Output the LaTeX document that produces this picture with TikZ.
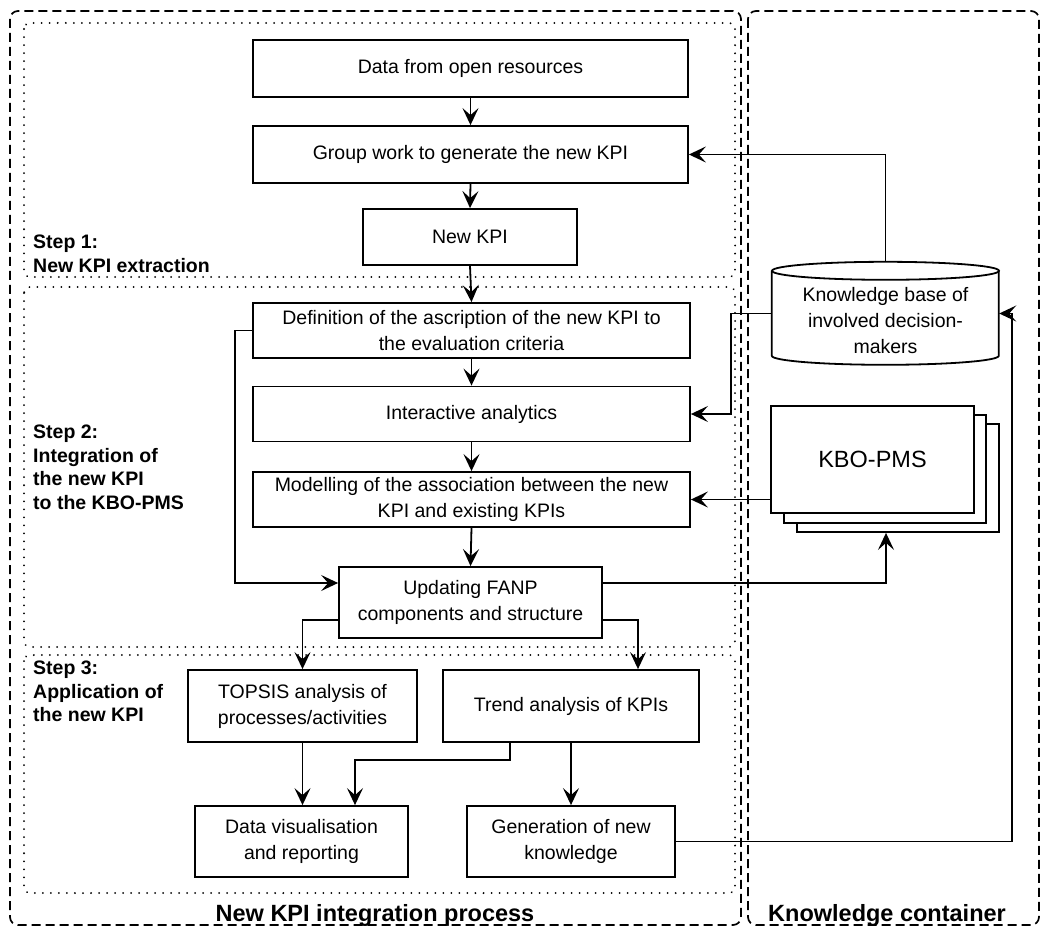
\documentclass[tikz,border=0pt]{standalone}
\usepackage{fontspec}
\setmainfont{Liberation Sans}
\usetikzlibrary{arrows.meta,calc}
\begin{document}
\begin{tikzpicture}[x=1pt,y=-1pt,
  box/.style={draw, line width=1.8pt, rectangle, inner sep=0pt, align=center, font=\fontsize{19.5}{26}\selectfont},
  arr/.style={line width=1.8pt, -{Stealth[length=17pt,width=16pt,inset=7pt]}},
  outer/.style={line width=1.7pt, dash pattern=on 9pt off 5pt, rounded corners=8pt},
  stepbox/.style={line width=2pt, dash pattern=on 0.01pt off 8pt, line cap=round, rounded corners=6pt},
  lbl/.style={font=\bfseries\fontsize{19.5}{23.7}\selectfont, align=left, inner sep=0pt, anchor=north west},
  big/.style={font=\bfseries\fontsize{23.5}{28}\selectfont, anchor=base, inner sep=0pt},
  ]
\useasboundingbox (0,0) rectangle (1042,928);

% containers
\draw[outer] (10,11) rectangle (741,925);
\draw[outer] (748,11) rectangle (1039,925);
\draw[stepbox] (24,23) rectangle (735,277);
\draw[stepbox] (24,287) rectangle (735,647);
\draw[stepbox] (24,655) rectangle (735,893);

% labels
\node[lbl] (s1) at (33,235) {Step 1:\\New KPI extraction};
\node[lbl] (s2) at (33,424.5) {Step 2:\\Integration of\\the new KPI\\to the KBO-PMS};
\node[lbl] (s3) at (33,660.5) {Step 3:\\Application of\\the new KPI};
\node[big] (t1) at (375,921) {New KPI integration process};
\node[big] (t2) at (887,921) {Knowledge container};

% process boxes
\node[box, minimum width=435pt, minimum height=57pt] (data) at (470.5,68.5) {Data from open resources};
\node[box, minimum width=435pt, minimum height=57pt] (group) at (470.5,154.5) {Group work to generate the new KPI};
\node[box, minimum width=214pt, minimum height=56pt] (newkpi) at (470,237) {New KPI};
\node[box, minimum width=437pt, minimum height=55pt] (def) at (471.5,330.5) {Definition of the ascription of the new KPI to\\the evaluation criteria};
\node[box, minimum width=437pt, minimum height=55pt] (inter) at (471.5,414) {Interactive analytics};
\node[box, minimum width=437pt, minimum height=55pt] (model) at (471.5,499.5) {Modelling of the association between the new\\KPI and existing KPIs};
\node[box, minimum width=263pt, minimum height=71pt] (upd) at (470.5,602.5) {Updating FANP\\components and structure};
\node[box, minimum width=229pt, minimum height=72pt] (topsis) at (302.5,706) {TOPSIS analysis of\\processes/activities};
\node[box, minimum width=256pt, minimum height=72pt] (trend) at (571,706) {Trend analysis of KPIs};
\node[box, minimum width=213pt, minimum height=71pt] (datavis) at (301.5,841.5) {Data visualisation\\and reporting};
\node[box, minimum width=208pt, minimum height=71pt] (gen) at (571,841.5) {Generation of new\\knowledge};

% knowledge base cylinder
\node[minimum width=227pt, minimum height=103pt, inner sep=0pt] (kb) at (885.5,313.5) {};
\draw[line width=1.8pt] (kb.north west) ++(0,9) -- ++(0,85)
  arc[start angle=180, end angle=0, x radius=113.5, y radius=9] -- ++(0,-85);
\draw[line width=1.8pt] ($(kb.north)+(0,9)$) ellipse[x radius=113.5, y radius=9];
\node[align=center, inner sep=0pt, font=\fontsize{19.5}{26}\selectfont] (kbtext) at ($(kb.center)+(0,7)$) {Knowledge base of\\involved decision-\\makers};
\coordinate (kbright) at (1012,313.5);

% KBO-PMS stack
\node[box, fill=white, minimum width=202pt, minimum height=108pt] (kbo3) at (898,478) {};
\node[box, fill=white, minimum width=202pt, minimum height=108pt] (kbo2) at (885,469) {};
\node[box, fill=white, minimum width=203pt, minimum height=107pt, font=\fontsize{23.5}{28}\selectfont] (kbo) at (872.5,459.5) {KBO-PMS};

% connectors
\draw[arr] (data.south) -- (group.north);
\draw[arr] (group.south) -- (newkpi.north);
\draw[arr] (newkpi.south) -- (def.north);
\draw[arr] (def.south) -- (inter.north);
\draw[arr] (inter.south) -- (model.north);
\draw[arr] (model.south) -- (upd.north);
\draw[arr] (def.west) -- ++(-17,0) |- ([yshift=19.5pt]upd.west);
\draw[arr] ([yshift=19.5pt]upd.east) -| ([xshift=-12pt]kbo3.south);
\draw[arr] ([yshift=-17.5pt]upd.west) -| (topsis.north);
\draw[arr] ([yshift=-17.5pt]upd.east) -| ([xshift=67pt]trend.north);
\draw[arr] (topsis.south) -- (topsis.south |- datavis.north);
\draw[arr] ([xshift=-61pt]trend.south) -- ++(0,17) -| ([xshift=53.5pt]datavis.north);
\draw[arr] (trend.south) -- (gen.north);
\draw[arr] (gen.east) -- (gen.east -| kbright) |- (kb.east);
\draw[arr] (kb.west) -- ++(-41,0) |- (inter.east);
\draw[arr] (kb.north) |- (group.east);
\draw[arr] (kbo.west |- model.east) -- (model.east);
\end{tikzpicture}
\end{document}
